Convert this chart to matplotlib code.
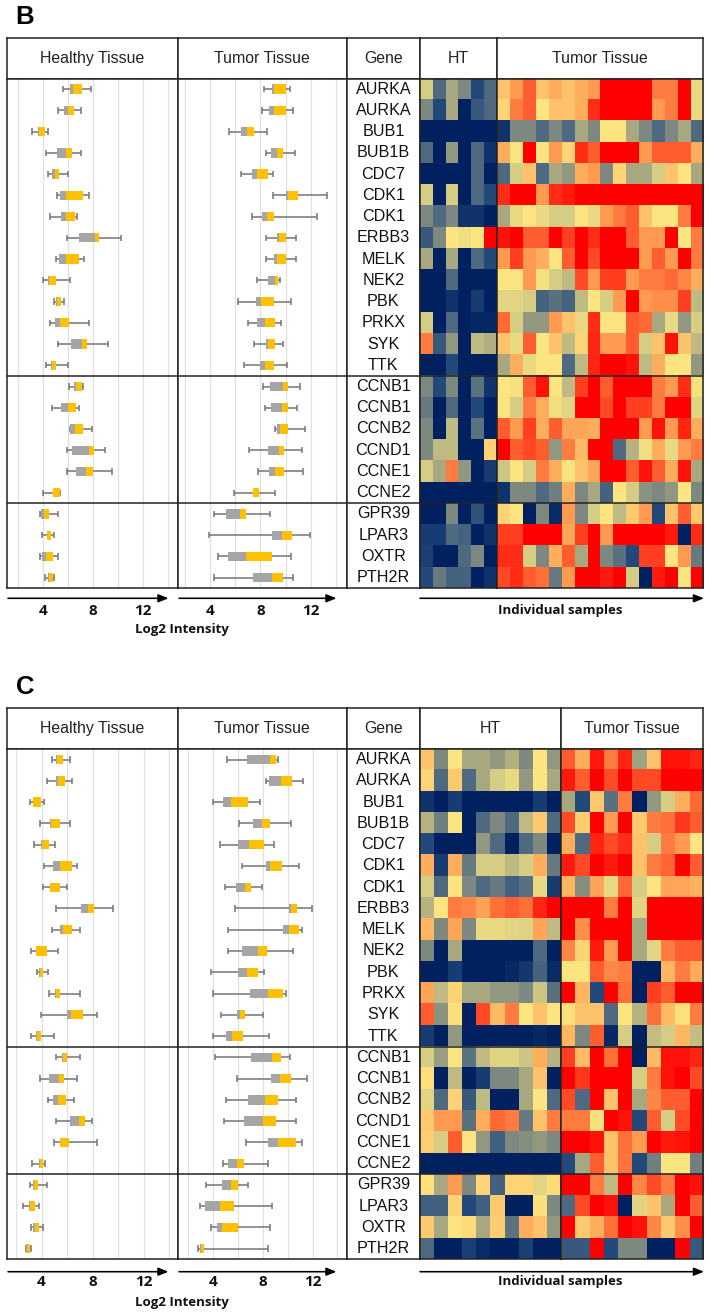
import numpy as np
import matplotlib
matplotlib.use("Agg")
import matplotlib.pyplot as plt
from matplotlib.colors import LinearSegmentedColormap

W, H = 710, 1314
GENES = ["AURKA","AURKA","BUB1","BUB1B","CDC7","CDK1","CDK1","ERBB3","MELK","NEK2","PBK","PRKX","SYK","TTK",
         "CCNB1","CCNB1","CCNB2","CCND1","CCNE1","CCNE2","GPR39","LPAR3","OXTR","PTH2R"]
GRID_VALUES = [2, 4, 6, 8, 10, 12, 14]
TICK_LABELS = ["", "4", "", "8", "", "12", ""]

# each row: whisker low, Q1, median, Q3, whisker high (log2 intensity)
B_HEALTHY = [
 [5.65,6.21,6.43,7.15,7.87],[5.20,5.71,6.05,6.51,7.07],[3.17,3.63,3.68,4.16,4.40],[4.29,5.17,5.84,6.35,7.09],
 [4.45,4.75,4.96,5.31,6.05],[5.12,5.36,5.89,7.25,7.73],[4.61,5.49,5.87,6.56,6.77],[5.92,6.93,8.21,8.48,10.29],
 [5.07,5.28,5.87,6.93,7.31],[4.00,4.43,4.48,5.07,6.21],[4.88,5.07,5.12,5.49,5.71],[4.59,5.01,5.36,6.11,7.68],
 [5.23,6.24,7.15,7.52,9.20],[4.29,4.67,4.72,5.09,6.00],[6.08,6.51,6.67,7.15,7.20],[4.72,5.47,6.03,6.67,6.93],
 [6.16,6.19,6.56,7.23,7.92],[5.92,6.37,7.68,8.11,8.96],[5.97,6.64,7.47,8.03,9.55],[4.05,4.80,4.85,5.36,5.39],
 [3.81,3.84,4.08,4.53,5.20],[3.92,4.35,4.37,4.69,4.88],[3.81,3.92,4.29,4.80,5.20],[4.21,4.40,4.48,4.80,4.93]]
B_TUMOR = [
 [8.30,8.91,9.07,10.06,10.32],[8.14,8.68,9.10,10.06,10.59],[5.51,6.47,6.95,7.48,8.49],[8.41,8.86,9.34,9.77,10.78],
 [6.47,7.35,7.72,8.62,8.97],[8.97,10.01,10.19,10.96,13.33],[7.35,8.12,8.54,9.05,12.53],[8.44,9.29,9.45,10.01,10.86],
 [8.41,9.05,9.34,10.06,10.86],[7.69,8.57,9.13,9.37,9.58],[6.23,7.61,8.04,9.05,10.40],[7.03,7.72,8.38,9.15,9.66],
 [7.48,8.44,8.60,9.18,9.82],[6.65,7.96,8.38,9.07,10.11],[8.17,8.76,9.77,10.19,11.15],[8.33,8.81,9.69,10.19,10.88],
 [9.13,9.31,9.55,10.16,11.52],[7.05,8.60,9.50,9.90,11.28],[7.82,8.68,9.18,9.90,11.36],[5.86,7.37,7.43,7.88,9.18],
 [4.31,5.24,6.36,6.84,8.78],[3.86,8.94,9.74,10.54,11.97],[4.61,5.43,6.84,8.94,10.43],[4.26,7.43,8.89,9.77,10.62]]
C_HEALTHY = [
 [4.80,5.11,5.19,5.71,6.26],[4.46,5.14,5.32,5.84,6.37],[3.10,3.33,3.36,3.93,4.20],[3.86,4.64,4.72,5.42,6.24],
 [3.44,3.93,4.07,4.61,5.03],[4.17,4.93,5.48,6.42,6.81],[4.14,4.64,4.69,5.42,6.00],[5.16,7.07,7.65,8.12,9.63],
 [4.80,5.48,5.69,6.39,7.05],[3.18,3.57,3.59,4.41,5.27],[3.62,3.80,3.88,4.09,4.54],[4.61,5.06,5.11,5.48,6.99],
 [3.93,6.00,6.34,7.28,8.38],[3.20,3.57,3.67,3.99,4.98],[5.14,5.63,5.71,6.03,7.05],[3.91,4.61,5.35,5.74,6.81],
 [4.54,4.93,5.29,5.92,6.52],[5.14,6.26,6.92,7.39,7.99],[4.98,5.42,5.48,6.18,8.33],[3.25,3.80,3.88,4.09,4.25],
 [3.10,3.33,3.41,3.70,4.41],[2.58,3.05,3.07,3.49,3.80],[3.18,3.36,3.46,3.83,4.12],[2.76,2.78,2.86,3.12,3.15]]
C_TUMOR = [
 [5.11,6.75,8.57,9.08,9.24],[8.22,8.46,9.43,10.31,11.20],[3.96,4.76,5.43,6.80,7.79],[6.10,7.20,7.90,8.60,10.28],
 [4.57,5.97,6.85,8.09,8.89],[6.32,8.22,8.60,9.53,10.87],[4.95,5.81,6.58,7.04,7.95],[5.73,10.12,10.23,10.71,11.92],
 [5.19,9.61,10.07,10.87,11.14],[5.19,6.34,7.60,8.35,10.39],[3.85,5.99,6.69,7.60,8.11],[4.01,6.96,8.38,9.64,9.86],
 [4.60,5.94,6.16,6.56,8.03],[4.01,5.00,5.51,6.42,8.46],[4.14,7.04,8.73,9.48,10.20],[5.94,8.65,9.37,10.23,11.54],
 [5.00,6.83,8.14,9.21,10.69],[4.84,6.50,8.01,9.05,10.69],[6.64,8.43,9.21,10.66,11.12],[4.79,5.22,5.89,6.45,8.38],
 [3.42,4.68,5.43,6.02,6.83],[2.94,3.37,4.55,5.65,8.70],[3.85,4.33,4.68,5.97,8.60],[2.75,2.94,2.99,3.23,8.38]]

# heat scores, 0 (navy) .. 10 (red)
B_HEAT_HT = [
 [5,2,4,3,1,2],[3,1,4,0,1.5,2],[0,0,0,0,0,0],[2,0,3.5,0,2,0.5],[0,0,0,0,2,0],[5,0,5,0,2,1],[3,2,3,0.5,0.5,0],
 [1.5,3,6,5.7,6,10],[4,0,4,0,2,1],[0,0,2,0,0,0],[0,0,0.5,0,0.7,0],[5,0,2,0,0.2,0.2],[8.5,1.5,3.5,0,4.5,4.2],[0,0,1,0,0,0],
 [3,1,3,0,2.3,0.5],[2.5,0,2,0,1,0],[3,0,4.5,0,2.3,0],[3,4.5,4.5,0,0,6.5],[5,4,8.5,3.5,0,0.7],[0,0,0,0,0,0],
 [0,0,3,0,1.3,0],[0.7,0.7,2,1.8,0,0.5],[0.8,0,0,2,3,0],[1,2.5,1.8,1.8,0,0.5]]
B_HEAT_TUMOR = [
 [7,8,9,7,7.5,7,7.5,8,10,10,10,10,8.5,8.5,10,5.5],
 [6.5,8.5,9,6,7,7,7.5,9.5,10,10,10,10,8,8.5,10,5.5],
 [0.5,3,3,2,3,2,4,3,6,6,4,3,2,3,4,2],
 [7.5,6,10,6,8,6.5,9.5,9,10,10,10,8,9,9,9,7.5],
 [2,5,7,2,4,3.5,7.5,8,3,6.5,4,4,5,7,6,4],
 [9.5,10,10,8,9.5,9.7,10,10,10,10,10,10,10,10,10,10],
 [4,5.5,6,5.5,5,5,6,5.5,8,8.5,9,7,6,6,8.5,10],
 [9.8,10,9,9,10,9.3,10,9.5,10,10,9,8,8,10,6,8.5],
 [8,9.3,8,7.5,6,9,10,9.2,10,10,10,8,9,8,10,8.5],
 [6,6,8,5.8,5,4.5,9.2,8,9.3,9.3,8,8.5,8.5,8.8,8.3,7.5],
 [5.3,5.3,5,1.8,2.2,1.8,4.5,6,5,8,10,8,8.2,8.2,9.3,4.5],
 [8.8,5,3.5,3.5,8,7,5.5,9.5,6,6,9,8.8,4,5.5,3.5,5],
 [7,5.5,9,6,7,4.5,6.5,9.6,8,8,9,5,7,9.8,7,4.5],
 [4,7.5,5.5,6,6,2,4.5,9.6,10,10,9.8,4.5,7.5,6,6,3.5],
 [6,5.8,9,9.8,6,4.5,9.3,10,9,10,10,10,8.5,8,9.5,5.8],
 [6,5,8.5,7.5,5.7,5.3,10,10,9.2,10,9.3,9.3,8.5,10,10,5.3],
 [9,8,9.3,7.5,9,7.7,7.7,7.5,10,10,10,8,9.8,8,9.6,7.5],
 [10,9,9.2,9,3.5,8.5,7.2,10,10,2,4.3,5.7,7.5,5.5,8,8.5],
 [4.8,6,5,8.5,7.5,6,7,7.7,10,10,9,9.8,9,7.5,9.8,4],
 [0.5,3,3,2,2.7,7.5,3,4,1.8,6,5,3.3,3,3.5,6,3],
 [6.5,6,0,3,0.3,8,3,5,6,4.5,6.8,8,1,7,9,6.8],
 [9.3,9.3,10,10,10,7.7,9.3,10,8,10,10,10,10,9.7,0,9.5],
 [9.5,9.5,5,3,7.5,9,4,10,3,2.2,1,9.3,9.3,6,8,2.5],
 [9.2,9.5,9,8.7,2.5,8,10,10,9.7,10,5,0,9.7,10,6,10]]
C_HEAT_HT = [
 [7,3,6,4,4,3.5,4.2,3,6,3.5],[6.5,2,6.8,2,4,5,5.5,3.5,6,4],[0.5,0,0.7,0,0,0,0,0,0.7,0],[4.3,2.7,6,0,2,3,2,4.5,6.8,2],
 [1,0,0,0,3.5,2,0,2,3,0],[7.5,0.7,7.5,2.5,5,5,4.5,5,7.5,2.5],[5,2,6,3,2,2.5,1.7,2.2,5.5,0.7],[4.3,6,8.5,8.3,7.8,8.7,9,8.7,9.6,10],
 [7.3,3,7.7,3,5.5,5.5,5.3,5.2,7.7,4.5],[3,0,4,0,0,0,0,0,2,0],[0,0,0.7,0,0,0,0.2,0.6,1.8,0.3],[7.7,4.5,6.5,4,4,3.5,3.5,3,4.8,2.2],
 [9,3.3,6.2,0,9.2,7.2,8.5,6,7,6],[0.7,0,3.5,0,0,0,0,0,0.2,0],[5,3.7,6,2.3,4.5,5.2,5.2,4.8,7.5,4.3],[6.2,0,4.5,0,0.7,3,3,4,7,0],
 [5.3,2,6.5,1.5,4.5,0,0,4,6,2],[6.8,8,8,2.2,7.5,8.8,8.5,2.5,7,8.5],[6.7,5,9,6,3.5,1.7,3,3.2,3.5,3],[0,0,0,0,0,0,0,0,0,0],
 [6.2,4,8,3,6.5,1.7,6.5,6.5,5.3,6.3],[1.7,1.7,6.5,1,1.7,6.8,0,0,6.2,3],[6.8,4,6,6.3,4,6.7,2.3,7.5,7,3.5],[2,0,0,0.8,0.3,0,0,0.8,0,0]]
C_HEAT_TUMOR = [
 [9,7.5,9.7,8.5,9.6,3.8,7,9.8,9.8,9.6],[9.7,9,10,9.2,10,9.2,9.2,10,10,10],[4,1,6.8,2.2,8.5,0,3.5,5,7.5,8.8],
 [9.2,6.7,10,8,10,6.8,8.5,8.7,9.4,9],[7.5,2,9.6,9.2,9.5,7,5,8.5,8,6],[9.7,9.2,10,9.7,10,7,8.5,8.9,10,9],
 [7.3,3.2,7.7,5.5,8.8,5,6,7.7,7.7,7.4],[10,10,10,8.5,10,5.3,10,10,10,10],[10,8.2,10,10,10,4,10,10,10,10],
 [8.3,6.5,9.7,8,10,4,5.3,8.5,9,9],[6,6,9,8.3,8.5,0,0,7.3,8.5,7.6],[10,7.3,1,10,8.7,0,9.3,9,10,10],
 [6.2,7,7,2,6,4.3,8.7,7.2,6.2,8.5],[7.3,3,9,0.2,5,0,4.6,5,7.3,4.6],[9.3,7.2,10,8.7,10,0,7.2,9.8,9.8,9.6],
 [10,9.4,10,10,10,5,8.5,9.8,10,9.2],[9.2,2,10,7,10,4,8.3,9,9,10],[8.5,8.5,5.8,10,9.8,1,9,5,9.2,10],
 [10,10,9.8,7,8.7,8,10,9.7,9.8,10],[1,4,9,7,8.6,1,2.7,6,6,2.7],[10,10,8.5,4.5,10,8.3,9.2,8.5,10,9.8],
 [2,9.2,10,9.8,0,5.3,7,4,10,9],[10,6.8,7.5,8.7,10,9.8,8.3,6.8,8.2,10],[1.5,1.5,10,1,3,3,0,0,10,1.5]]

HEAT_COLORS = ["#00205f","#234a7a","#4f6a80","#7e8a80","#a8a880","#d6cd85","#fde680","#fec36c","#ff9a50","#ff5f30","#ff0000"]
cmap = LinearSegmentedColormap.from_list("heat", HEAT_COLORS, N=256)
GRAY, GOLD, WHISK, GRID = "#a5a5a5", "#ffc000", "#7a7a7a", "#e0e0e0"
LW = 1.1
HEAD = ["Liberation Sans"]
BOLD = ["Open Sans"]

fig = plt.figure(figsize=(W/100, H/100), dpi=100, facecolor="white")

def axpx(x0, x1, y0, y1, **kw):
    return fig.add_axes([x0/W, 1-y1/H, (x1-x0)/W, (y1-y0)/H], **kw)

overlay = axpx(0, W, 0, H, zorder=10)
overlay.set_xlim(0, W); overlay.set_ylim(H, 0); overlay.axis("off"); overlay.patch.set_alpha(0)

def arrow(x0, x1, y):
    overlay.annotate("", xy=(x1, y), xytext=(x0, y),
                     arrowprops=dict(arrowstyle="-|>,head_length=0.6,head_width=0.24", color="black", lw=1.15,
                                     shrinkA=0, shrinkB=0))

def frame(*axes):
    for a in axes:
        for s in a.spines.values():
            s.set_linewidth(LW); s.set_color("#222222")

def header(x0, x1, top, hbot, title):
    head = axpx(x0, x1, top, hbot)
    head.set_xticks([]); head.set_yticks([])
    head.text(0.5, 0.5, title, ha="center", va="center", family=HEAD, fontsize=11.4, color="#222222", transform=head.transAxes)
    return head

def box_panel(x0, x1, top, hbot, bot, data, grid2, per_unit, title):
    head = header(x0, x1, top, hbot, title)
    ax = axpx(x0, x1, hbot, bot)
    ax.set_xlim(2-(grid2-x0)/per_unit, 2+(x1-grid2)/per_unit)
    ax.set_ylim(24, 0)
    ax.set_axisbelow(True)
    ax.set_xticks(GRID_VALUES); ax.set_xticklabels(TICK_LABELS, family=BOLD, fontweight="bold", fontsize=11, color="#111111")
    ax.tick_params(axis="x", length=0, pad=11.5)
    ax.set_yticks([])
    ax.grid(axis="x", color=GRID, lw=0.9)
    d = np.array(data); y = np.arange(24)+0.5
    ax.hlines(y, d[:,0], d[:,4], color=WHISK, lw=1.15, zorder=2)
    ax.vlines(d[:,0], y-0.15, y+0.15, color=WHISK, lw=1.15, zorder=2)
    ax.vlines(d[:,4], y-0.15, y+0.15, color=WHISK, lw=1.15, zorder=2)
    ax.barh(y, d[:,2]-d[:,1], left=d[:,1], height=0.44, color=GRAY, zorder=3)
    ax.barh(y, d[:,3]-d[:,2], left=d[:,2], height=0.44, color=GOLD, zorder=3)
    ax.axhline(14, color="#222222", lw=LW, zorder=4); ax.axhline(20, color="#222222", lw=LW, zorder=4)
    frame(head, ax)

def heat(x0, x1, top, hbot, bot, vals, title):
    head = header(x0, x1, top, hbot, title)
    ax = axpx(x0, x1, hbot, bot)
    ax.imshow(np.array(vals), cmap=cmap, vmin=0, vmax=10, aspect="auto", interpolation="nearest",
              extent=(0, len(vals[0]), 24, 0))
    ax.set_xticks([]); ax.set_yticks([])
    ax.axhline(14, color="#222222", lw=LW); ax.axhline(20, color="#222222", lw=LW)
    frame(head, ax)

def gene_col(x0, x1, top, hbot, bot):
    head = header(x0, x1, top, hbot, "Gene")
    ax = axpx(x0, x1, hbot, bot)
    ax.set_xlim(0, 1); ax.set_ylim(24, 0); ax.set_xticks([]); ax.set_yticks([])
    for i, g in enumerate(GENES):
        ax.text(0.5, i+0.5, g, ha="center", va="center", family=HEAD, fontsize=11.6, color="#111111")
    ax.axhline(14, color="#222222", lw=LW); ax.axhline(20, color="#222222", lw=LW)
    frame(head, ax)

# Panel B
T, HB, BT = 37.7, 78.5, 588.3
overlay.text(25, 17, "B", ha="center", va="center", family=HEAD, fontweight="bold", fontsize=18.5, color="black")
box_panel(7, 177.7, T, HB, BT, B_HEALTHY, 17.7, 12.5, "Healthy Tissue")
box_panel(177.7, 346.7, T, HB, BT, B_TUMOR, 185.3, 12.53, "Tumor Tissue")
gene_col(346.7, 420, T, HB, BT)
heat(420, 497, T, HB, BT, B_HEAT_HT, "HT")
heat(497, 703, T, HB, BT, B_HEAT_TUMOR, "Tumor Tissue")

# Panel C
T, HB, BT = 707.7, 749, 1259.3
overlay.text(25, 687, "C", ha="center", va="center", family=HEAD, fontweight="bold", fontsize=18.5, color="black")
box_panel(7, 177.7, T, HB, BT, C_HEALTHY, 16, 12.75, "Healthy Tissue")
box_panel(177.7, 346.7, T, HB, BT, C_TUMOR, 188.3, 12.43, "Tumor Tissue")
gene_col(346.7, 420, T, HB, BT)
heat(420, 560.5, T, HB, BT, C_HEAT_HT, "HT")
heat(560.5, 703, T, HB, BT, C_HEAT_TUMOR, "Tumor Tissue")

for ay, ly, iy in ((598.3, 630, 610.7), (1271.7, 1302.7, 1281.7)):
    arrow(8, 168.5, ay); arrow(179, 336.5, ay); arrow(420, 704, ay)
    overlay.text(182, ly, "Log2 Intensity", ha="center", va="center", family=BOLD, fontweight="bold", fontsize=9.5, color="#111111")
    overlay.text(560, iy, "Individual samples", ha="center", va="center", family=BOLD, fontweight="bold", fontsize=9.5, color="#111111")

fig.savefig("out.png", dpi=100, facecolor="white")
